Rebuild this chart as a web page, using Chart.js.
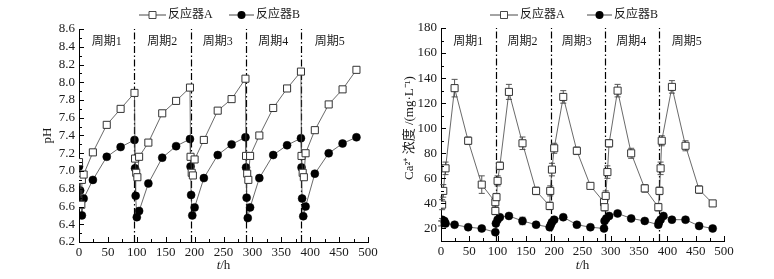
<!DOCTYPE html>
<html>
<head>
<meta charset="utf-8">
<script src="https://cdn.jsdelivr.net/npm/chart.js@4.4.1/dist/chart.umd.min.js"></script>
<style>
  body { margin: 0; background: #fff; }
  canvas { position: absolute; top: 0; }
</style>
</head>
<body>
<canvas id="phChart" width="387" height="279" style="left:0"></canvas>
<canvas id="caChart" width="387" height="279" style="left:387px"></canvas>
<script>
// 周期划分与刻度
const cycleLabels = ['周期1', '周期2', '周期3', '周期4', '周期5'];
const cycleMid = [48, 144, 240, 336, 434];
const phBounds = [96, 193, 289, 384];
const caBounds = [97, 195, 290, 385];
const tTicks = [0, 50, 100, 150, 200, 250, 300, 350, 400, 450, 500];
const phTicks = [6.2, 6.4, 6.6, 6.8, 7.0, 7.2, 7.4, 7.6, 7.8, 8.0, 8.2, 8.4, 8.6];
const caTicks = [20, 40, 60, 80, 100, 120, 140, 160, 180];

// pH
const phTimeA = [0, 2, 4, 5, 8, 24, 48, 72, 96,
  97, 99, 101, 104, 120, 144, 168, 192,
  193, 195, 197, 200, 216, 240, 264, 288,
  289, 291, 293, 296, 312, 336, 360, 384,
  385, 387, 389, 392, 408, 432, 456, 480];
const phA = [7.10, 6.95, 6.62, 6.90, 6.96, 7.21, 7.52, 7.70, 7.88,
  7.14, 6.98, 6.93, 7.16, 7.32, 7.65, 7.79, 7.94,
  7.16, 6.98, 6.95, 7.13, 7.35, 7.68, 7.81, 8.04,
  7.17, 6.97, 6.90, 7.17, 7.40, 7.71, 7.93, 8.12,
  7.17, 6.98, 6.93, 7.20, 7.46, 7.75, 7.92, 8.14];
const phTimeB = [0, 2, 5, 8, 24, 48, 72, 96,
  97, 98, 100, 104, 120, 144, 168, 192,
  193, 194, 196, 200, 216, 240, 264, 288,
  289, 290, 292, 296, 312, 336, 360, 384,
  385, 386, 388, 392, 408, 432, 456, 480];
const phB = [7.05, 6.78, 6.50, 6.69, 6.90, 7.16, 7.27, 7.35,
  7.03, 6.72, 6.48, 6.55, 6.86, 7.15, 7.28, 7.36,
  7.05, 6.73, 6.50, 6.59, 6.92, 7.18, 7.30, 7.38,
  7.04, 6.70, 6.47, 6.59, 6.92, 7.18, 7.29, 7.37,
  7.04, 6.69, 6.49, 6.60, 6.97, 7.20, 7.31, 7.38];

// Ca2+ 浓度
const caTimeA = [2, 4, 8, 24, 48, 72, 96,
  96, 98, 100, 104, 120, 144, 168, 192,
  193, 196, 200, 216, 240, 264, 288,
  289, 291, 294, 297, 312, 336, 360, 384,
  386, 388, 390, 408, 432, 456, 480];
const caA = [39, 50, 68, 132, 90, 55, 41,
  34, 45, 58, 70, 129, 88, 50, 38,
  50, 67, 84, 125, 82, 54, 41,
  37, 46, 65, 88, 130, 80, 52, 37,
  50, 68, 90, 133, 86, 51, 40];
const caErrA = [4, 5, 5, 7, 3, 7, 4,
  3, 3, 4, 3, 6, 5, 3, 3,
  4, 5, 4, 5, 3, 2, 3,
  3, 4, 5, 3, 5, 4, 3, 3,
  3, 5, 4, 5, 4, 3, 2];
const caTimeB = [0, 2, 4, 6, 8, 24, 48, 72, 96,
  97, 100, 104, 120, 144, 168, 192,
  194, 196, 200, 216, 240, 264, 288,
  289, 292, 297, 312, 336, 360, 384,
  385, 388, 393, 408, 432, 456, 480];
const caB = [24, 27, 26, 26, 24, 23, 21, 20, 17,
  24, 27, 29, 30, 26, 23, 21,
  23, 25, 27, 29, 23, 21, 20,
  26, 28, 30, 32, 28, 26, 23,
  25, 27, 30, 27, 27, 22, 20];
const caErrB = [2, 1, 1, 1, 1, 1, 1, 1, 1,
  1, 1, 1, 1, 3, 1, 1,
  1, 1, 1, 1, 1, 1, 1,
  1, 1, 1, 1, 1, 1, 1,
  1, 1, 1, 1, 1, 1, 1];

const serif = '"Liberation Serif", "Noto Sans CJK SC", serif';
const ink = '#1a1a1a';

const pts = (xs, ys) => xs.map((t, i) => ({ x: t, y: ys[i] }));

const decor = {
  id: 'decor',
  beforeDatasetsDraw(chart, args, o) {
    const { ctx, chartArea: a, scales: { x, y } } = chart;
    ctx.save();
    // 周期分界线
    ctx.strokeStyle = '#000';
    ctx.lineWidth = 1.2;
    ctx.setLineDash([7, 2.5, 1.5, 2.5]);
    o.bounds.forEach(t => {
      const px = Math.round(x.getPixelForValue(t)) + 0.5;
      ctx.beginPath();
      ctx.moveTo(px, a.bottom);
      ctx.lineTo(px, a.top);
      ctx.stroke();
    });
    ctx.setLineDash([]);
    // 误差棒
    ctx.strokeStyle = '#555';
    ctx.lineWidth = 1;
    (o.errors || []).forEach((err, d) => {
      if (!err) return;
      chart.data.datasets[d].data.forEach((p, i) => {
        const px = x.getPixelForValue(p.x);
        const hi = y.getPixelForValue(p.y + err[i]);
        const lo = y.getPixelForValue(p.y - err[i]);
        ctx.beginPath();
        ctx.moveTo(px, hi); ctx.lineTo(px, lo);
        ctx.moveTo(px - 3, hi); ctx.lineTo(px + 3, hi);
        ctx.moveTo(px - 3, lo); ctx.lineTo(px + 3, lo);
        ctx.stroke();
      });
    });
    ctx.restore();
  },
  afterDraw(chart, args, o) {
    const { ctx, chartArea: a, scales: { x, y } } = chart;
    ctx.save();
    ctx.strokeStyle = '#000';
    ctx.lineWidth = 1;

    // 朝内的刻度
    const tk = (scale, horiz) => {
      const vals = scale.ticks.map(t => t.value);
      vals.forEach((v, i) => {
        const marks = [[v, 5]];
        if (i < vals.length - 1) marks.push([(v + vals[i + 1]) / 2, 3]);
        marks.forEach(([m, len]) => {
          const p = Math.round(scale.getPixelForValue(m)) + 0.5;
          ctx.beginPath();
          if (horiz) { ctx.moveTo(p, a.bottom); ctx.lineTo(p, a.bottom - len); }
          else { ctx.moveTo(a.left, p); ctx.lineTo(a.left + len, p); }
          ctx.stroke();
        });
      });
    };
    tk(x, true);
    tk(y, false);

    ctx.fillStyle = ink;
    ctx.textBaseline = 'middle';
    ctx.textAlign = 'center';

    // 周期标签
    ctx.font = '12px ' + serif;
    cycleLabels.forEach((s, i) => ctx.fillText(s, x.getPixelForValue(cycleMid[i]), 42));

    // 图例
    const mark = (kind, px, py) => {
      ctx.beginPath();
      if (kind === 'rect') {
        ctx.rect(px - 3.5, py - 3.5, 7, 7);
        ctx.fillStyle = '#fff'; ctx.fill();
        ctx.strokeStyle = '#333'; ctx.stroke();
      } else {
        ctx.arc(px, py, 4, 0, Math.PI * 2);
        ctx.fillStyle = '#000'; ctx.fill();
      }
    };
    ctx.textAlign = 'left';
    o.legend.forEach((l, i) => {
      ctx.strokeStyle = '#333';
      ctx.lineWidth = 0.9;
      ctx.beginPath();
      ctx.moveTo(l.x1, 15); ctx.lineTo(l.x2, 15);
      ctx.stroke();
      mark(l.kind, (l.x1 + l.x2) / 2, 15);
      ctx.fillStyle = ink;
      ctx.font = '12px ' + serif;
      ctx.fillText(chart.data.datasets[i].label, l.x2 + 2, 15);
    });

    // 坐标轴标题
    ctx.textAlign = 'left';
    ctx.font = 'italic 13px ' + serif;
    const wT = ctx.measureText('t').width;
    ctx.font = '13px ' + serif;
    const wH = ctx.measureText('/h').width;
    const cx = (a.left + a.right) / 2 - (wT + wH) / 2;
    ctx.font = 'italic 13px ' + serif;
    ctx.fillText('t', cx, 266);
    ctx.font = '13px ' + serif;
    ctx.fillText('/h', cx + wT, 266);

    ctx.save();
    ctx.translate(o.yTitleX, o.yTitleY || (a.top + a.bottom) / 2);
    ctx.rotate(-Math.PI / 2);
    ctx.textAlign = 'center';
    ctx.font = '13px ' + serif;
    ctx.fillText(o.yTitle, 0, 0);
    ctx.restore();

    ctx.restore();
  }
};

function axes(yMin, yMax, yTicks, yWidth, xHeight, fmt) {
  const tickFont = { family: serif, size: 13 };
  return {
    x: {
      type: 'linear', min: 0, max: 500,
      afterBuildTicks: s => { s.ticks = tTicks.map(v => ({ value: v })); },
      afterFit: s => { s.height = xHeight; },
      grid: { display: false, drawTicks: false },
      border: { color: '#000', width: 1 },
      ticks: { font: tickFont, color: ink, padding: 3, maxRotation: 0, autoSkip: false }
    },
    y: {
      type: 'linear', min: yMin, max: yMax,
      afterBuildTicks: s => { s.ticks = yTicks.map(v => ({ value: v })); },
      afterFit: s => { s.width = yWidth; },
      grid: { display: false, drawTicks: false },
      border: { color: '#000', width: 1 },
      ticks: { font: tickFont, color: ink, padding: 4, autoSkip: false, callback: fmt }
    }
  };
}

const lineA = { borderColor: '#444', borderWidth: 0.8, pointStyle: 'rect', pointRadius: 5,
  pointBackgroundColor: '#fff', pointBorderColor: '#333', pointBorderWidth: 1 };
const lineB = { borderColor: '#444', borderWidth: 0.8, pointStyle: 'circle', pointRadius: 4,
  pointBackgroundColor: '#000', pointBorderColor: '#000', pointBorderWidth: 0.5 };

new Chart(document.getElementById('phChart'), {
  type: 'line',
  data: {
    datasets: [
      { label: '反应器A', data: pts(phTimeA, phA), ...lineA },
      { label: '反应器B', data: pts(phTimeB, phB), ...lineB }
    ]
  },
  options: {
    responsive: false,
    animation: false,
    devicePixelRatio: 1,
    layout: { padding: { left: 38, right: 19, top: 29, bottom: 0 } },
    scales: axes(6.2, 8.6, phTicks, 41, 37, v => v.toFixed(1)),
    plugins: {
      legend: { display: false },
      tooltip: { enabled: false },
      decor: {
        bounds: phBounds,
        legend: [{ x1: 139, x2: 166, kind: 'rect' }, { x1: 229, x2: 254, kind: 'circle' }],
        yTitle: 'pH', yTitleX: 48
      }
    }
  },
  plugins: [decor]
});

new Chart(document.getElementById('caChart'), {
  type: 'line',
  data: {
    datasets: [
      { label: '反应器A', data: pts(caTimeA, caA), ...lineA },
      { label: '反应器B', data: pts(caTimeB, caB), ...lineB }
    ]
  },
  options: {
    responsive: false,
    animation: false,
    devicePixelRatio: 1,
    layout: { padding: { left: 15, right: 50, top: 28, bottom: 0 } },
    scales: axes(10, 180, caTicks, 39, 38, v => v),
    plugins: {
      legend: { display: false },
      tooltip: { enabled: false },
      decor: {
        bounds: caBounds,
        errors: [caErrA, caErrB],
        legend: [{ x1: 103, x2: 131, kind: 'rect' }, { x1: 200, x2: 225, kind: 'circle' }],
        yTitle: 'Ca²⁺ 浓度 /(mg·L⁻¹)', yTitleX: 23, yTitleY: 128
      }
    }
  },
  plugins: [decor]
});
</script>
</body>
</html>
